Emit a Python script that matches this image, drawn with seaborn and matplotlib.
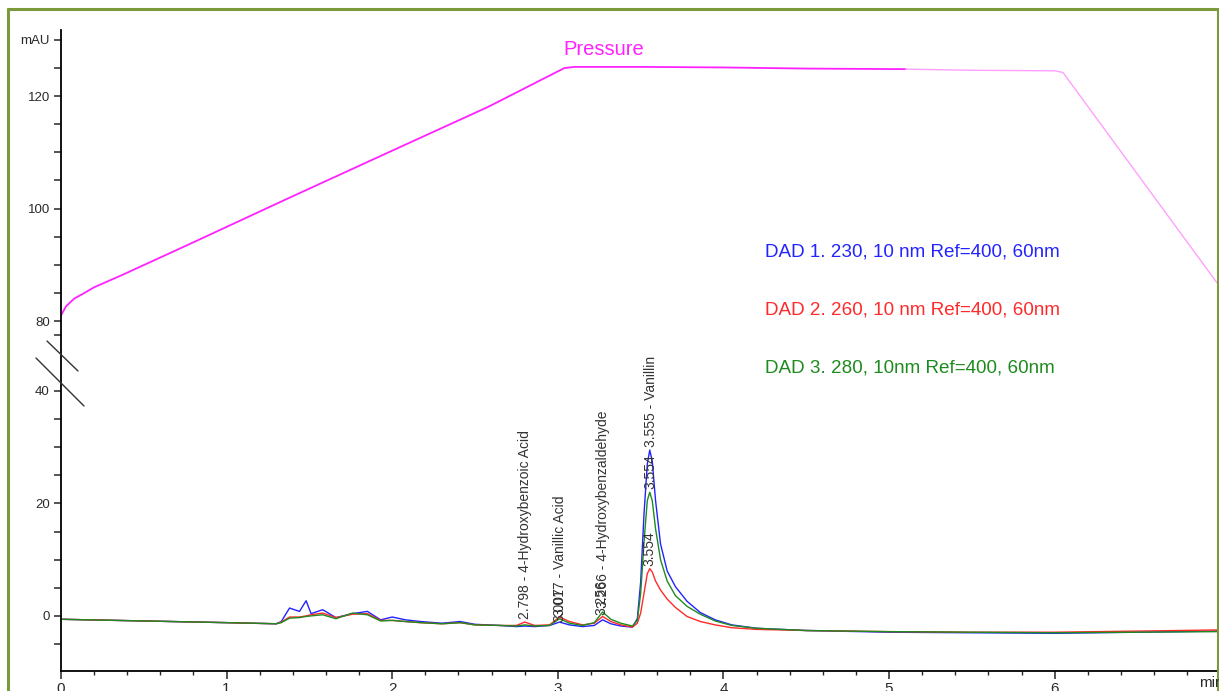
import matplotlib
matplotlib.use("Agg")
import matplotlib.pyplot as plt
import matplotlib.ticker as mticker
from matplotlib import font_manager
from matplotlib.lines import Line2D
import pandas as pd
import seaborn as sns

# pressure trace (upper, broken part of the axis)
pressure_time = [0.0, 0.03, 0.08, 0.13, 0.2, 0.37, 0.77, 1.37, 1.97, 2.58, 3.04, 3.1, 3.5, 4.0, 4.5, 5.1]
pressure_vals = [81.0, 82.6, 84.0, 84.8, 86.0, 88.2, 93.6, 101.8, 109.9, 118.1, 125.0, 125.2, 125.2, 125.1, 124.9, 124.8]
pressure_time_late = [5.1, 5.5, 6.0, 6.05, 6.98]
pressure_vals_late = [124.8, 124.6, 124.5, 124.2, 86.8]

# DAD traces (mAU)
t = [0.0, 0.5, 1.0, 1.3, 1.33, 1.38, 1.44, 1.48, 1.51, 1.58,
     1.66, 1.76, 1.85, 1.93, 2.0, 2.08, 2.17, 2.3, 2.41, 2.5,
     2.65, 2.75, 2.80, 2.86, 2.95, 3.01, 3.07, 3.15, 3.22, 3.27,
     3.32, 3.38, 3.45, 3.48, 3.50, 3.52, 3.54, 3.555, 3.57, 3.59,
     3.62, 3.66, 3.71, 3.78, 3.86, 3.95, 4.05, 4.2, 4.5, 5.0,
     5.5, 6.0, 6.5, 6.98]
dad1 = [-0.6, -0.9, -1.2, -1.4, -1.0, 1.4, 0.8, 2.7, 0.4, 1.1,
        -0.3, 0.4, 0.8, -0.7, -0.2, -0.7, -1.0, -1.3, -1.0, -1.5,
        -1.7, -1.9, -1.8, -1.9, -1.7, -1.1, -1.6, -1.9, -1.7, -0.7,
        -1.4, -1.8, -2.0, -0.5, 6.0, 18.0, 27.0, 29.5, 27.5, 20.5,
        12.8, 8.0, 5.2, 2.6, 0.6, -0.7, -1.6, -2.2, -2.6, -2.9,
        -3.0, -3.1, -2.9, -2.7]
dad2 = [-0.6, -0.9, -1.2, -1.4, -1.1, -0.2, -0.2, 0.0, 0.2, 0.5,
        -0.3, 0.3, 0.4, -0.8, -0.8, -1.0, -1.2, -1.4, -1.2, -1.6,
        -1.7, -1.7, -1.1, -1.7, -1.6, -0.2, -1.0, -1.6, -1.3, -0.1,
        -1.0, -1.6, -2.0, -1.3, 0.5, 4.0, 7.5, 8.4, 7.8, 6.2,
        4.6, 3.0, 1.5, -0.1, -1.0, -1.6, -2.1, -2.4, -2.6, -2.8,
        -2.9, -2.9, -2.7, -2.5]
dad3 = [-0.6, -0.9, -1.2, -1.4, -1.2, -0.4, -0.3, -0.1, 0.0, 0.2,
        -0.5, 0.5, 0.2, -0.9, -0.8, -1.0, -1.2, -1.4, -1.2, -1.6,
        -1.7, -1.8, -1.6, -1.8, -1.7, -0.5, -1.3, -1.7, -1.2, 0.7,
        -0.6, -1.3, -1.8, -0.8, 4.0, 13.0, 20.5, 22.0, 20.5, 15.5,
        10.0, 6.2, 3.6, 1.7, 0.3, -0.9, -1.7, -2.2, -2.6, -2.8,
        -2.9, -3.0, -2.9, -2.8]

# peak annotations: (time, bottom of label in mAU, text)
peak_labels = [
    (2.80, -0.5, "2.798 - 4-Hydroxybenzoic Acid"),
    (3.01, -1.0, "3.007"),
    (3.015, 0.0, "3.017 - Vanillic Acid"),
    (3.26, 0.2, "3.256"),
    (3.27, 1.4, "3.266 - 4-Hydroxybenzaldehyde"),
    (3.565, 30.0, "3.555 - Vanillin"),
    (3.56, 22.6, "3.554"),
    (3.555, 8.8, "3.554"),
]

dad_names = ["DAD 1. 230, 10 nm Ref=400, 60nm",
             "DAD 2. 260, 10 nm Ref=400, 60nm",
             "DAD 3. 280, 10nm Ref=400, 60nm"]
dad_colors = ["#2323ff", "#ff2a2a", "#1f8a1f"]

# upper section is shifted down so that 80 mAU sits just above the break
shift = 27.56

sns.set_style("ticks")
plt.rcParams['font.family'] = ['Liberation Sans', 'DejaVu Sans']

names = {f.name for f in font_manager.fontManager.ttflist}
if 'Liberation Sans Narrow' in names:
    narrow, legend_size, press_size = 'Liberation Sans Narrow', 15.5, 16.5
else:
    narrow, legend_size, press_size = 'Liberation Sans', 13.6, 14.5

W, H = 1219, 691
fig = plt.figure(figsize=(W / 100, H / 100), dpi=100)
ax = fig.add_axes([61 / W, 20 / H, (1217 - 61) / W, (671 - 30) / H])

df = pd.DataFrame({"t": t, "DAD1": dad1, "DAD2": dad2, "DAD3": dad3})
for col, c in zip(["DAD1", "DAD2", "DAD3"], dad_colors):
    sns.lineplot(data=df, x="t", y=col, ax=ax, color=c, lw=1.0, estimator=None, sort=False)

sns.lineplot(x=pressure_time, y=[p - shift for p in pressure_vals], ax=ax,
             color="#ff22ff", lw=1.3, estimator=None, sort=False)
sns.lineplot(x=pressure_time_late, y=[p - shift for p in pressure_vals_late], ax=ax,
             color="#ffa0ff", lw=1.0, estimator=None, sort=False)

ax.set_xlim(0, 6.98)
ax.set_ylim(-9.8, 104.2)
ax.set_xlabel("")
ax.set_ylabel("")

# y ticks: lower part is plain mAU, upper part is shifted
low_ticks = [-5, 0, 5, 10, 15, 20, 25, 30, 35, 40]
up_ticks = [77.5, 80, 85, 90, 95, 100, 105, 110, 115, 120, 125, 130]
ytick_pos = low_ticks + [u - shift for u in up_ticks]
ytick_lab = [str(v) if v in (0, 20, 40) else "" for v in low_ticks]
ytick_lab += ["mAU" if u == 130 else (str(int(u)) if u in (80, 100, 120) else "") for u in up_ticks]
ax.yaxis.set_major_locator(mticker.FixedLocator(ytick_pos))
ax.set_yticklabels(ytick_lab)

ax.xaxis.set_major_locator(mticker.MultipleLocator(1))
ax.xaxis.set_minor_locator(mticker.MultipleLocator(0.2))
ax.xaxis.set_major_formatter(mticker.FormatStrFormatter('%d'))

ax.tick_params(axis='y', direction='out', length=5, width=1.1, pad=3,
               labelsize=9.5, labelcolor='#2a2a2a')
ax.tick_params(axis='x', which='major', direction='out', length=6, width=1.1, pad=2,
               labelsize=11, labelcolor='#2a2a2a')
ax.tick_params(axis='x', which='minor', direction='out', length=3, width=1.0)
sns.despine(ax=ax)
for s in ("left", "bottom"):
    ax.spines[s].set_linewidth(1.3)
    ax.spines[s].set_color("black")

for x, yb, txt in peak_labels:
    ax.text(x, yb, txt, rotation=90, ha='center', va='bottom', fontsize=10, color='#333333')

ax.text(3.28, 100.8, "Pressure", color="#ff22ff", fontsize=press_size,
        family=narrow, ha='center', va='center')
for i, (name, c) in enumerate(zip(dad_names, dad_colors)):
    ax.text(4.25, 64.7 - i * 10.3, name, color=c, fontsize=legend_size,
            family=narrow, ha='left', va='center')

fig.text(1199 / W, 1 - 676 / H, "min", fontsize=11, color='#2a2a2a', ha='left', va='top')

# axis break marks
for (x0, y0), (x1, y1) in [((47, 341), (78, 371)), ((36, 358), (84, 406))]:
    fig.add_artist(Line2D([x0 / W, x1 / W], [1 - y0 / H, 1 - y1 / H], color="#333333", lw=1.0))

# green frame
frame = "#7a9a3c"
fig.add_artist(Line2D([8 / W, 8 / W], [0, 1 - 9 / H], color=frame, lw=2.2))
fig.add_artist(Line2D([8 / W, 1218 / W], [1 - 9 / H, 1 - 9 / H], color=frame, lw=2.2))
fig.add_artist(Line2D([1218 / W, 1218 / W], [1 - 9 / H, 0], color=frame, lw=2.2))

fig.savefig("out.png", dpi=100)
